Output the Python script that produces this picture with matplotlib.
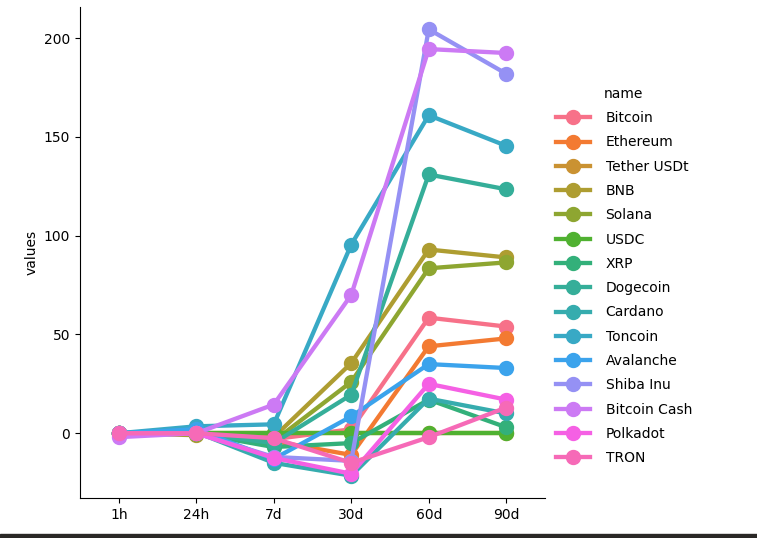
import matplotlib
matplotlib.use("Agg")
import matplotlib.pyplot as plt
import matplotlib.patches as mpatches
import pandas as pd
import seaborn as sns

# timeframes on the x axis
periods = ["1h", "24h", "7d", "30d", "60d", "90d"]

names = ["Bitcoin", "Ethereum", "Tether USDt", "BNB", "Solana", "USDC", "XRP",
         "Dogecoin", "Cardano", "Toncoin", "Avalanche", "Shiba Inu",
         "Bitcoin Cash", "Polkadot", "TRON"]

# percent change per coin
bitcoin = [0, 0, -3, 2, 58.5, 54]
ethereum = [0, 0, -4, -11, 44, 48]
tether = [0, 0, 0, 0, 0, 0]
bnb = [0, -1, -2, 35.5, 93, 89]
solana = [0, -0.5, -4, 26, 83.5, 86.5]
usdc = [0, 0, 0, 0, 0, 0]
xrp = [0, 0, -7, -5, 17, 3]
dogecoin = [0, 0, -5, 19.5, 131, 123.5]
cardano = [0, 0.5, -15, -21.5, 17.5, 10]
toncoin = [0, 3.5, 4.5, 95.5, 161, 145.5]
avalanche = [0, 2, -13, 8.5, 35, 33]
shiba = [0, 0, -12, -14, 204.5, 182]
bitcoin_cash = [-2, 0, 14.5, 70, 194.5, 192.5]
polkadot = [0, 0, -12.5, -20.5, 25, 17]
tron = [0, 0, -2.5, -15, -2, 13]

series = [bitcoin, ethereum, tether, bnb, solana, usdc, xrp, dogecoin, cardano,
          toncoin, avalanche, shiba, bitcoin_cash, polkadot, tron]

# long format for seaborn
rows = []
for name, vals in zip(names, series):
    for p, v in zip(periods, vals):
        rows.append({"name": name, "period": p, "values": v})
df = pd.DataFrame(rows)

fig = plt.figure(figsize=(7.57, 5.38), dpi=100)
ax = fig.add_axes([80 / 757, 1 - 498 / 538, 465 / 757, 491 / 538])

sns.pointplot(data=df, x="period", y="values", hue="name", order=periods,
              hue_order=names, errorbar=None, ax=ax, markersize=8.7, linewidth=3.1,
              palette=sns.color_palette("husl", len(names)))
sns.despine(ax=ax)

ax.set_ylabel("values")
ax.set_xlabel("period", labelpad=22)

handles, labels = ax.get_legend_handles_labels()
ax.legend_.remove()
fig.legend(handles, labels, title="name", loc="center left",
           bbox_to_anchor=(543 / 757, 1 - 276 / 538), frameon=False,
           labelspacing=0.74, handlelength=2.5, handletextpad=1.1)

# dark strip at the very bottom of the screenshot
fig.patches.append(mpatches.Rectangle((0, 0), 1, 4.5 / 538, transform=fig.transFigure,
                                      color="#2a2826", zorder=10))

fig.savefig("out.png", dpi=100)
